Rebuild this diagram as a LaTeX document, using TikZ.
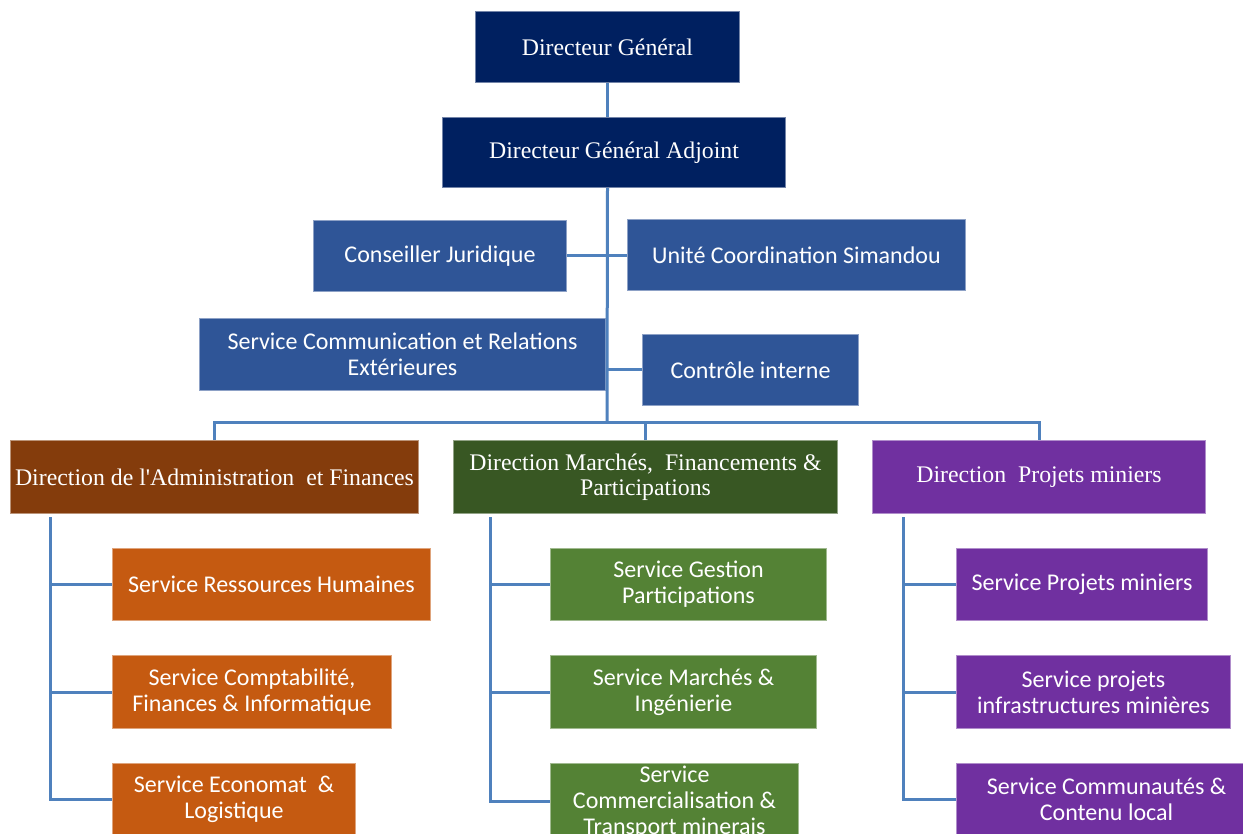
\documentclass[tikz,border=0pt]{standalone}
\usepackage{fontspec}
\setmainfont{Liberation Serif}
\newfontfamily\calibri{Carlito}
\usetikzlibrary{positioning}
\definecolor{navy}{HTML}{002060}
\definecolor{staffblue}{HTML}{2F5597}
\definecolor{brown}{HTML}{843C0C}
\definecolor{rust}{HTML}{C55A11}
\definecolor{forest}{HTML}{385723}
\definecolor{leaf}{HTML}{548235}
\definecolor{plum}{HTML}{7030A0}
\definecolor{wire}{HTML}{4F81BD}
\tikzset{
  box/.style={anchor=north west, inner sep=2pt, align=center, text=white, line width=1pt},
  serifbox/.style={box, fill=#1, draw=#1!55!white, font=\fontsize{23.8}{25}\selectfont},
  sansbox/.style={box, fill=#1, draw=#1!55!white, font=\calibri\fontsize{24}{26}\selectfont},
  head/.style={serifbox=navy},
  staff/.style={sansbox=staffblue},
  link/.style={draw=wire, line width=3pt},
}
\begin{document}
\begin{tikzpicture}[x=1pt, y=-1pt]
  \clip (0,0) rectangle (1243,834);
  \fill[white] (0,0) rectangle (1243,834);

  \node[head, minimum width=264pt, minimum height=71pt] (dg) at (475,11) {Directeur Général};
  \node[head, minimum width=343pt, minimum height=70pt] (dga) at (442,117) {Directeur Général Adjoint};

  \node[staff, minimum width=253pt, minimum height=71pt] (cj) at (313,220) {Conseiller Juridique};
  \node[staff, minimum width=338pt, minimum height=71pt] (ucs) at (627,219) {Unité Coordination Simandou};
  \node[staff, minimum width=406pt, minimum height=72pt] (scre) at (199,318) {Service Communication et Relations\\Extérieures};
  \node[staff, minimum width=216pt, minimum height=71pt] (ci) at (642,334) {Contrôle interne};

  \node[serifbox=brown, minimum width=408pt, minimum height=73pt] (daf) at (10,440) {Direction de l\textquotesingle Administration\ \ et Finances};
  \node[serifbox=forest, minimum width=384pt, minimum height=73pt] (dmfp) at (453,440) {Direction Marchés,\ \ Financements \&\\Participations};
  \node[serifbox=plum, minimum width=333pt, minimum height=73pt] (dpm) at (872,440) {Direction\ \ Projets miniers};

  \node[sansbox=rust, minimum width=318pt, minimum height=72pt] (srh) at (112,548) {Service Ressources Humaines};
  \node[sansbox=rust, minimum width=279pt, minimum height=73pt] (scf) at (112,655) {Service Comptabilité,\\Finances \& Informatique};
  \node[sansbox=rust, minimum width=243pt, minimum height=72pt] (sel) at (112,763) {Service Economat\ \ \&\\Logistique};

  \node[sansbox=leaf, minimum width=276pt, minimum height=72pt] (sgp) at (550,548) {Service Gestion\\Participations};
  \node[sansbox=leaf, minimum width=266pt, minimum height=73pt] (smi) at (550,655) {Service Marchés \&\\Ingénierie};
  \node[sansbox=leaf, minimum width=248pt, minimum height=72pt] (sct) at (550,763) {Service\\Commercialisation \&\\Transport minerais};

  \node[sansbox=plum, minimum width=251pt, minimum height=72pt] (spm) at (956,548) {Service Projets miniers};
  \node[sansbox=plum, minimum width=274pt, minimum height=73pt] (spi) at (956,655) {Service projets\\infrastructures minières};
  \node[sansbox=plum, minimum width=300pt, minimum height=72pt] (scc) at (956,763) {Service Communautés \&\\Contenu local};

  \coordinate (trunk) at (607,422);
  \draw[link] (dg.south) -- (dg.south |- dga.north);
  \draw[link] (dg.south |- dga.south) -- (trunk);
  \draw[link] (cj.east) -- (cj.east -| ucs.west);
  \draw[link] (ci.west) -- (ci.west -| trunk);
  \draw[link] (daf.north) |- (trunk) -| (dpm.north);
  \draw[link] (dmfp.north) -- (dmfp.north |- trunk);

  \coordinate (lspine) at (50,517);
  \coordinate (mspine) at (490,517);
  \coordinate (rspine) at (903,517);
  \draw[link] (lspine) |- (sel.west);
  \draw[link] (mspine) |- (sct.west);
  \draw[link] (rspine) |- (scc.west);
  \foreach \s in {srh,scf} \draw[link] (lspine |- \s.west) -- (\s.west);
  \foreach \s in {sgp,smi} \draw[link] (mspine |- \s.west) -- (\s.west);
  \foreach \s in {spm,spi} \draw[link] (rspine |- \s.west) -- (\s.west);
\end{tikzpicture}
\end{document}
